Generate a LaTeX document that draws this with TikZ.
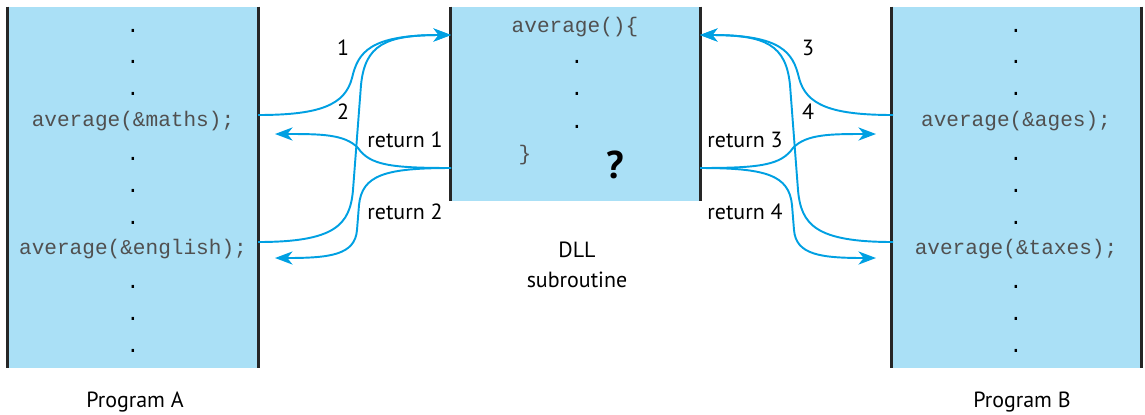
\documentclass[tikz,border=0pt]{standalone}
\usepackage{fontspec}
\setmainfont{PT Sans}
\setmonofont{Liberation Mono}
\usepackage{xcolor}
\usetikzlibrary{arrows.meta}
\definecolor{boxblue}{RGB}{170,224,246}
\definecolor{callcyan}{RGB}{0,160,226}
\definecolor{codegray}{RGB}{80,80,80}

\begin{document}
\begin{tikzpicture}[x=0.02cm, y=-0.02cm,
    >={Stealth[length=10pt, width=7.5pt, inset=3pt]},
    progbox/.style={fill=boxblue, inner sep=0pt, minimum width=5cm},
    sideline/.style={line width=1.6pt, black!85},
    codetext/.style={font=\ttfamily\fontsize{12}{14}\selectfont, text=codegray},
    dotmark/.style={font=\ttfamily\fontsize{12}{14}\selectfont, inner sep=1pt},
    lbl/.style={font=\fontsize{12.5}{15}\selectfont},
    call/.style={->, line width=1.1pt, callcyan}]
  \useasboundingbox (0,0) rectangle (1145,414);

  % the three blocks
  \node[progbox, minimum height=7.22cm] (progA) at (133,187.5) {};
  \node[progbox, minimum height=3.88cm] (dll) at (575.5,104) {};
  \node[progbox, minimum height=7.22cm] (progB) at (1016.5,187.5) {};
  \foreach \b in {progA, dll, progB} {
    \draw[sideline] (\b.north west) -- (\b.south west);
    \draw[sideline] (\b.north east) -- (\b.south east);
  }

  % program A
  \foreach \y [count=\i] in {31,62,94,159,191,223,287,319,351}
    \node[dotmark] (dotA\i) at (133,\y) {.};
  \node[codetext] (mathsA) at (133,121) {average(\&maths);};
  \node[codetext] (englishA) at (133,249) {average(\&english);};

  % program B
  \foreach \y [count=\i] in {31,62,94,159,191,223,287,319,351}
    \node[dotmark] (dotB\i) at (1016,\y) {.};
  \node[codetext] (agesB) at (1016,121) {average(\&ages);};
  \node[codetext] (taxesB) at (1016,249) {average(\&taxes);};

  % subroutine
  \node[codetext] (head) at (575,27) {average()\{};
  \foreach \y [count=\i] in {62,94,127}
    \node[dotmark] (dotD\i) at (577,\y) {.};
  \node[codetext] (tail) at (525,155) {\}};
  \node[font=\bfseries\fontsize{22}{24}\selectfont] (qmark) at (615,165) {?};

  % captions
  \node[lbl] (capA) at (135,402) {Program A};
  \node[lbl] (capB) at (1022,402) {Program B};
  \node[lbl, align=center] (capD) at (577,265)
    {DLL\\[2pt]subroutine};

  % ends of the calls
  \coordinate (outA1) at (258,115);
  \coordinate (outA2) at (258,242);
  \coordinate (inA1) at (275,134);
  \coordinate (inA2) at (275,258);
  \coordinate (outB1) at (893,115);
  \coordinate (outB2) at (893,242);
  \coordinate (inB1) at (876,134);
  \coordinate (inB2) at (876,258);
  \coordinate (entryL) at (451,35);
  \coordinate (entryR) at (700,35);
  \coordinate (exitL) at (451,168);
  \coordinate (exitR) at (700,168);

  % calls and returns, left
  \draw[call] (outA1) .. controls (320,115) and (345,105) .. (352,78)
    .. controls (358,52) and (370,35) .. (entryL);
  \draw[call] (outA2) .. controls (335,242) and (350,225) .. (353,190)
    -- (361,85) .. controls (365,45) and (385,35) .. (entryL);
  \draw[call] (exitL) .. controls (390,168) and (370,165) .. (358,148)
    .. controls (345,134) and (320,134) .. (inA1);
  \draw[call] (exitL) .. controls (385,168) and (362,175) .. (359,205)
    -- (357,230) .. controls (355,255) and (330,258) .. (inA2);

  % calls and returns, right
  \draw[call] (outB1) .. controls (831,115) and (806,105) .. (799,78)
    .. controls (793,52) and (781,35) .. (entryR);
  \draw[call] (outB2) .. controls (816,242) and (801,225) .. (798,190)
    -- (790,85) .. controls (786,45) and (766,35) .. (entryR);
  \draw[call] (exitR) .. controls (761,168) and (781,165) .. (793,148)
    .. controls (806,134) and (831,134) .. (inB1);
  \draw[call] (exitR) .. controls (766,168) and (789,175) .. (792,205)
    -- (794,230) .. controls (796,255) and (821,258) .. (inB2);

  % labels on the calls
  \node[lbl] (one) at (343,48) {1};
  \node[lbl] (two) at (343,112) {2};
  \node[lbl] (ret1) at (405,140) {return 1};
  \node[lbl] (ret2) at (405,212) {return 2};
  \node[lbl] (three) at (808,48) {3};
  \node[lbl] (four) at (808,112) {4};
  \node[lbl] (ret3) at (745,140) {return 3};
  \node[lbl] (ret4) at (745,212) {return 4};
\end{tikzpicture}
\end{document}
